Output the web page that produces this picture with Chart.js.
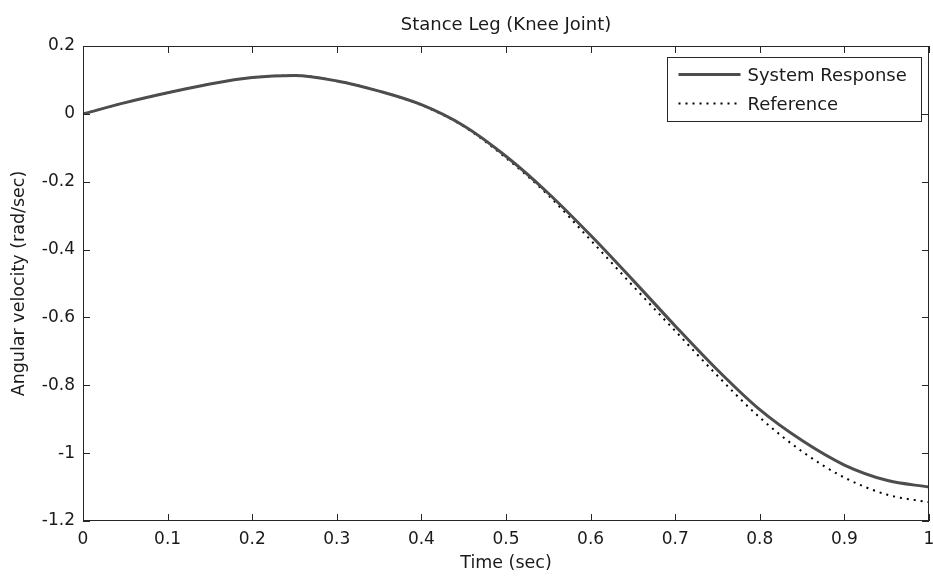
<!DOCTYPE html>
<html><head><meta charset="utf-8">
<script src="https://cdn.jsdelivr.net/npm/chart.js@4/dist/chart.umd.min.js"></script>
<style>html,body{margin:0;padding:0;background:#fff}#wrap{width:933px;height:577px}</style>
</head><body><div id="wrap"><canvas id="c" width="933" height="577"></canvas></div>
<script>
const chartTitle = 'Stance Leg (Knee Joint)';
const xTitle = 'Time (sec)';
const yTitle = 'Angular velocity (rad/sec)';
const seriesNames = ['System Response', 'Reference'];
const timeSec = [0, 0.05, 0.1, 0.15, 0.2, 0.25, 0.3, 0.35, 0.4, 0.45, 0.5, 0.55, 0.6, 0.65, 0.7, 0.75, 0.8, 0.85, 0.9, 0.95, 1.0];
const systemResponse = [0.0, 0.033, 0.062, 0.088, 0.107, 0.113, 0.097, 0.067, 0.027, -0.035, -0.125, -0.234, -0.358, -0.49, -0.625, -0.755, -0.872, -0.963, -1.035, -1.08, -1.10];
const referenceSignal = [0.0, 0.033, 0.062, 0.088, 0.107, 0.113, 0.097, 0.067, 0.026, -0.037, -0.13, -0.24, -0.372, -0.507, -0.64, -0.772, -0.895, -0.995, -1.072, -1.122, -1.145];
const xTicks = [0, 0.1, 0.2, 0.3, 0.4, 0.5, 0.6, 0.7, 0.8, 0.9, 1];
const yTicks = [0.2, 0, -0.2, -0.4, -0.6, -0.8, -1, -1.2];

const FONT = 'DejaVu Sans';
const INK = '#1a1a1a';
const AXIS = '#262626';

const fmt = v => { const r = Math.round(v * 10) / 10; return r === 0 ? '0' : String(r); };

const boxAndTicks = {
  id: 'boxAndTicks',
  afterDatasetsDraw(chart) {
    const { ctx, chartArea: a, scales } = chart;
    const L = 7;
    ctx.save();
    ctx.strokeStyle = AXIS;
    ctx.lineWidth = 1;
    ctx.beginPath();
    scales.x.ticks.forEach(t => {
      const px = Math.round(scales.x.getPixelForValue(t.value)) + 0.5;
      ctx.moveTo(px, a.top); ctx.lineTo(px, a.top + L);
      ctx.moveTo(px, a.bottom); ctx.lineTo(px, a.bottom - L);
    });
    scales.y.ticks.forEach(t => {
      const py = Math.round(scales.y.getPixelForValue(t.value)) + 0.5;
      ctx.moveTo(a.left, py); ctx.lineTo(a.left + L, py);
      ctx.moveTo(a.right, py); ctx.lineTo(a.right - L, py);
    });
    ctx.stroke();
    ctx.strokeRect(Math.round(a.left) + 0.5, Math.round(a.top) + 0.5, Math.round(a.right - a.left) - 1, Math.round(a.bottom - a.top) - 1);
    ctx.restore();
  }
};

const boxLegend = {
  id: 'boxLegend',
  afterDraw(chart) {
    const { ctx, chartArea: a } = chart;
    const w = 254, h = 64;
    const x0 = Math.round(a.right - 8 - w) + 0.5, y0 = Math.round(a.top + 11) + 0.5;
    ctx.save();
    ctx.fillStyle = '#fff';
    ctx.fillRect(x0, y0, w, h);
    ctx.strokeStyle = AXIS; ctx.lineWidth = 1;
    ctx.strokeRect(x0, y0, w, h);
    const rows = [17, 46];
    chart.data.datasets.forEach((ds, i) => {
      const yy = y0 + rows[i];
      ctx.beginPath();
      ctx.strokeStyle = ds.borderColor;
      ctx.lineWidth = ds.borderWidth;
      ctx.setLineDash(ds.borderDash || []);
      ctx.moveTo(x0 + 11, yy); ctx.lineTo(x0 + 73, yy);
      ctx.stroke();
      ctx.setLineDash([]);
      ctx.fillStyle = INK;
      ctx.font = '18px "' + FONT + '"';
      ctx.textBaseline = 'middle';
      ctx.textAlign = 'left';
      ctx.fillText(ds.label, x0 + 80, yy + 2);
    });
    ctx.restore();
  }
};

new Chart(document.getElementById('c'), {
  type: 'line',
  data: {
    datasets: [
      {
        label: seriesNames[0],
        data: timeSec.map((t, i) => ({ x: t, y: systemResponse[i] })),
        borderColor: '#4d4d4d', borderWidth: 3, pointRadius: 0,
        cubicInterpolationMode: 'monotone', fill: false
      },
      {
        label: seriesNames[1],
        data: timeSec.map((t, i) => ({ x: t, y: referenceSignal[i] })),
        borderColor: '#000000', borderWidth: 2, borderDash: [2, 5], pointRadius: 0,
        cubicInterpolationMode: 'monotone', fill: false
      }
    ]
  },
  options: {
    responsive: false, animation: false, devicePixelRatio: 1,
    layout: { padding: { left: 0, right: 4, top: 0, bottom: 0 } },
    plugins: {
      legend: { display: false },
      tooltip: { enabled: false },
      title: {
        display: true, fullSize: false, text: chartTitle, color: INK,
        font: { family: FONT, size: 18, weight: 'normal' },
        padding: { top: 14.2, bottom: 10.2 }
      }
    },
    scales: {
      x: {
        type: 'linear', min: 0, max: 1,
        afterBuildTicks: s => { s.ticks = xTicks.map(v => ({ value: v })); },
        afterFit: s => { s.height = 56; s.paddingLeft = 0; s.paddingRight = 0; },
        grid: { display: false, drawTicks: false },
        border: { display: false },
        ticks: { color: INK, font: { family: FONT, size: 17 }, padding: 8, maxRotation: 0, autoSkip: false, callback: v => fmt(v) },
        title: { display: true, text: xTitle, color: INK, font: { family: FONT, size: 17.5 }, padding: { top: 0, bottom: 3 } }
      },
      y: {
        type: 'linear', min: -1.2, max: 0.2,
        afterBuildTicks: s => { s.ticks = yTicks.map(v => ({ value: v })); },
        afterFit: s => { s.width = 83; },
        grid: { display: false, drawTicks: false },
        border: { display: false },
        ticks: { color: INK, font: { family: FONT, size: 17 }, padding: 8, autoSkip: false, callback: v => fmt(v) },
        title: { display: true, text: yTitle, color: INK, font: { family: FONT, size: 17.5 }, padding: { top: 9, bottom: 0 } }
      }
    }
  },
  plugins: [boxAndTicks, boxLegend]
});
</script>
</body></html>
